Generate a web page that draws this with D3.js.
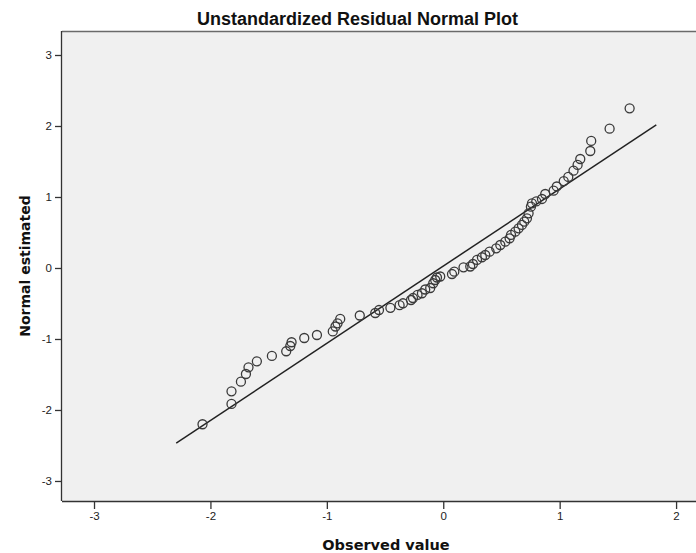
<!DOCTYPE html>
<html>
<head>
<meta charset="utf-8">
<script src="https://cdn.jsdelivr.net/npm/d3@7/dist/d3.min.js"></script>
<style>
  html, body { margin: 0; padding: 0; background: #fff; }
  svg { display: block; }
</style>
</head>
<body>
<svg id="chart" width="696" height="553"></svg>
<script>
// ---- data ----
const titleText = "Unstandardized Residual Normal Plot";
const xLabel = "Observed value";
const yLabel = "Normal estimated";
const xTicks = [-3, -2, -1, 0, 1, 2];
const yTicks = [-3, -2, -1, 0, 1, 2, 3];

// observed values (x) and normal estimated values (y)
const observed = [
  -2.068, -1.819, -1.819, -1.738, -1.695, -1.673, -1.601, -1.472, -1.349, -1.314,
  -1.303, -1.194, -1.085, -0.949, -0.926, -0.908, -0.885, -0.717, -0.584, -0.552,
  -0.454, -0.375, -0.346, -0.277, -0.260, -0.221, -0.183, -0.155, -0.112, -0.086,
  -0.069, -0.054, -0.026, 0.075, 0.095, 0.174, 0.232, 0.255, 0.290, 0.332,
  0.361, 0.398, 0.455, 0.490, 0.533, 0.570, 0.582, 0.619, 0.647, 0.676,
  0.696, 0.719, 0.733, 0.753, 0.762, 0.799, 0.848, 0.876, 0.948, 0.975,
  1.035, 1.074, 1.119, 1.154, 1.177, 1.263, 1.271, 1.429, 1.601
];
const estimated = [
  -2.201, -1.915, -1.737, -1.601, -1.493, -1.399, -1.314, -1.239, -1.173, -1.099,
  -1.046, -0.986, -0.944, -0.894, -0.824, -0.779, -0.718, -0.669, -0.634, -0.592,
  -0.561, -0.524, -0.497, -0.451, -0.423, -0.380, -0.356, -0.303, -0.282, -0.215,
  -0.169, -0.134, -0.120, -0.085, -0.052, 0.010, 0.021, 0.056, 0.113, 0.151,
  0.183, 0.230, 0.277, 0.324, 0.370, 0.418, 0.465, 0.511, 0.559, 0.606,
  0.652, 0.700, 0.770, 0.863, 0.911, 0.937, 0.972, 1.042, 1.089, 1.148,
  1.223, 1.282, 1.370, 1.451, 1.535, 1.648, 1.789, 1.962, 2.249
];
// reference line end points
const lineX = [-2.294, 1.830];
const lineY = [-2.468, 2.017];

// ---- layout ----
const mLeft = 62, mTop = 31, mBottom = 501, mRight = 711;

const svg = d3.select("#chart");

const x = d3.scaleLinear().domain([-3.275, 2.30]).range([mLeft, mRight]);
const y = d3.scaleLinear().domain([-3.282, 3.338]).range([mBottom, mTop]);

// plot background
svg.append("rect")
  .attr("x", mLeft).attr("y", mTop)
  .attr("width", mRight - mLeft).attr("height", mBottom - mTop)
  .attr("fill", "#f0f0f0");

// top frame line
svg.append("line")
  .attr("x1", mLeft).attr("x2", mRight)
  .attr("y1", mTop + 0.5).attr("y2", mTop + 0.5)
  .attr("stroke", "#6a6a6a").attr("stroke-width", 1.6);

const fontTick = "'Liberation Sans', Arial, sans-serif";
const fmt = d => String(d);

// x axis
const xAxis = d3.axisBottom(x).tickValues(xTicks).tickSize(8).tickPadding(3)
  .tickFormat(fmt);
const gx = svg.append("g").attr("transform", `translate(0,${mBottom})`).call(xAxis);
gx.select(".domain").attr("stroke", "#333").attr("stroke-width", 1.3)
  .attr("d", `M${mLeft},0.5H${mRight}`);
gx.selectAll(".tick line").attr("stroke", "#333").attr("stroke-width", 1.3);
gx.selectAll(".tick text").attr("fill", "#222")
  .style("font-family", fontTick).style("font-size", "11.5px");

// y axis
const yAxis = d3.axisLeft(y).tickValues(yTicks).tickSize(7).tickPadding(3)
  .tickFormat(fmt);
const gy = svg.append("g").attr("transform", `translate(${mLeft},0)`).call(yAxis);
gy.select(".domain").attr("stroke", "#333").attr("stroke-width", 1.3)
  .attr("d", `M-0.5,${mTop}V${mBottom}`);
gy.selectAll(".tick line").attr("stroke", "#333").attr("stroke-width", 1.3);
gy.selectAll(".tick text").attr("fill", "#222")
  .style("font-family", fontTick).style("font-size", "11.5px");

// reference line
const lineData = lineX.map((v, i) => [v, lineY[i]]);
svg.append("path")
  .datum(lineData)
  .attr("fill", "none")
  .attr("stroke", "#222")
  .attr("stroke-width", 1.5)
  .attr("d", d3.line().x(d => x(d[0])).y(d => y(d[1])));

// points
const pts = observed.map((v, i) => ({ x: v, y: estimated[i] }));
svg.append("g").selectAll("circle")
  .data(pts)
  .join("circle")
  .attr("cx", d => x(d.x))
  .attr("cy", d => y(d.y))
  .attr("r", 4.5)
  .attr("fill", "none")
  .attr("stroke", "#3a3a3a")
  .attr("stroke-width", 1.3);

// title
svg.append("text")
  .attr("x", 357.5).attr("y", 25)
  .attr("text-anchor", "middle")
  .style("font-family", "'Liberation Sans', Arial, sans-serif")
  .style("font-weight", "bold")
  .style("font-size", "18px")
  .attr("fill", "#111")
  .text(titleText);

// x label
svg.append("text")
  .attr("x", 386).attr("y", 550)
  .attr("text-anchor", "middle")
  .style("font-family", "'DejaVu Sans', sans-serif")
  .style("font-weight", "bold")
  .style("font-size", "14.5px")
  .attr("fill", "#111")
  .text(xLabel);

// y label
svg.append("text")
  .attr("transform", "translate(30,266) rotate(-90)")
  .attr("text-anchor", "middle")
  .style("font-family", "'DejaVu Sans', sans-serif")
  .style("font-weight", "bold")
  .style("font-size", "14px")
  .attr("fill", "#111")
  .text(yLabel);
</script>
</body>
</html>
